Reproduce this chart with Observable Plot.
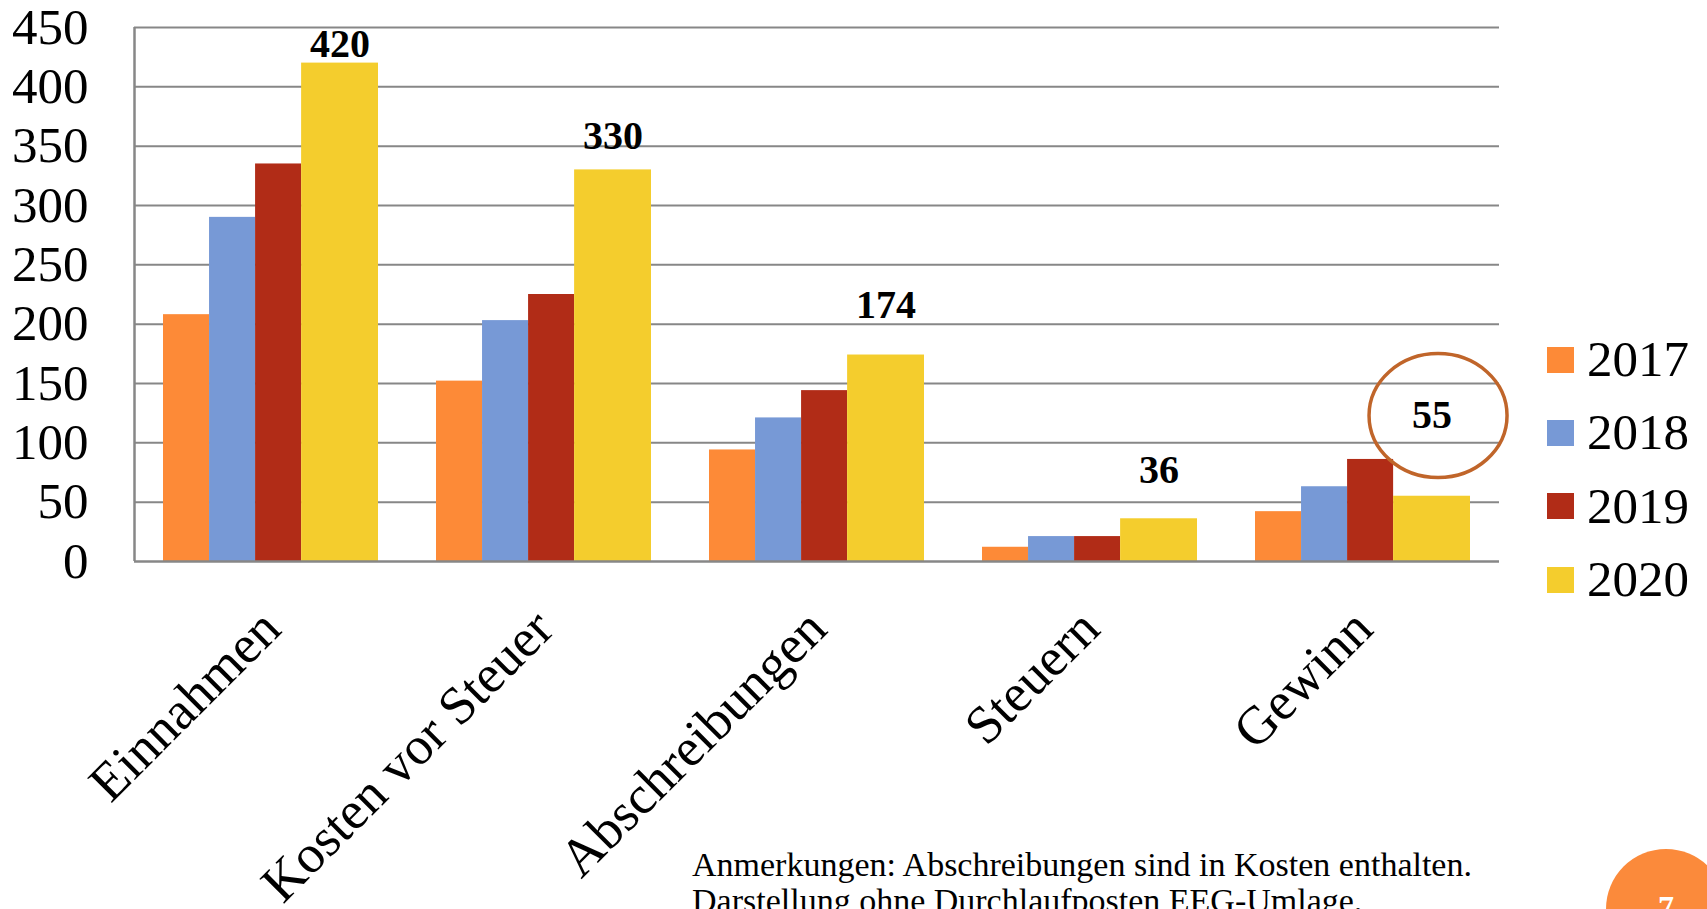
<!DOCTYPE html>
<html>
<head>
<meta charset="utf-8">
<script src="https://cdn.jsdelivr.net/npm/d3@7"></script>
<script src="https://cdn.jsdelivr.net/npm/@observablehq/plot@0.6"></script>
<style>
  html, body { margin: 0; padding: 0; background: #fff; overflow: hidden; }
  #wrap { position: relative; width: 1707px; height: 909px; font-family: "Liberation Serif", serif; }
  #chart { position: absolute; left: 0; top: 0; }
  .legend { position: absolute; left: 1547px; top: 323px; }
  .legend .row { display: flex; align-items: center; height: 73.3px; }
  .legend .sw { width: 27px; height: 26px; margin-right: 13px; }
  .legend .lb { font-size: 51px; color: #000; line-height: 1; }
  .note { position: absolute; left: 692px; top: 847px; font-size: 34px; line-height: 36px; color: #000; white-space: nowrap; }
  .page { position: absolute; left: 1606px; top: 849px; width: 120px; height: 120px; border-radius: 50%; background: #FB8A3B; }
  .page span { position: absolute; left: 0; width: 120px; top: 40px; text-align: center; color: #fff; font-weight: bold; font-size: 32px; }
</style>
</head>
<body>
<div id="wrap">
  <div id="chart"></div>
  <div class="legend" id="legend"></div>
  <div class="note">Anmerkungen: Abschreibungen sind in Kosten enthalten.<br>Darstellung ohne Durchlaufposten EEG-Umlage.</div>
  <div class="page"><span>7</span></div>
</div>
<script>
// ---- data ----
const categories = ["Einnahmen", "Kosten vor Steuer", "Abschreibungen", "Steuern", "Gewinn"];
const years = ["2017", "2018", "2019", "2020"];
const v2017 = [208, 152, 94, 12, 42];
const v2018 = [290, 203, 121, 21, 63];
const v2019 = [335, 225, 144, 21, 86];
const v2020 = [420, 330, 174, 36, 55];
const labelText = ["420", "330", "174", "36", "55"];
const labelAt = [436, 358, 216, 77, 123];
const yTicks = [0, 50, 100, 150, 200, 250, 300, 350, 400, 450];
const colors = ["#FD8A37", "#7799D6", "#B12C17", "#F4CD2D"];
const highlighted = ["Gewinn"];

// ---- layout (in bar-width units within each category band) ----
const PAD = 0.63;
const widths = [1, 1, 1, 1.67];
const bandUnits = 2 * PAD + d3.sum(widths);
const offsets = widths.map((w, i) => PAD + d3.sum(widths.slice(0, i)));

const series = [v2017, v2018, v2019, v2020];
const rows = [];
categories.forEach((c, ci) => {
  years.forEach((y, yi) => {
    rows.push({cat: c, year: y, value: series[yi][ci], x1: offsets[yi], x2: offsets[yi] + widths[yi]});
  });
});
const labels = categories.map((c, ci) => ({cat: c, text: labelText[ci], at: labelAt[ci]}));
const lastCenter = offsets[3] + widths[3] / 2;

const ellipse = {
  draw(ctx) {
    const rx = 69, ry = 62, k = 0.5523;
    ctx.moveTo(rx, 0);
    ctx.bezierCurveTo(rx, ry * k, rx * k, ry, 0, ry);
    ctx.bezierCurveTo(-rx * k, ry, -rx, ry * k, -rx, 0);
    ctx.bezierCurveTo(-rx, -ry * k, -rx * k, -ry, 0, -ry);
    ctx.bezierCurveTo(rx * k, -ry, rx, -ry * k, rx, 0);
    ctx.closePath();
  }
};

const gridColor = "#878787";

const chart = Plot.plot({
  width: 1707,
  height: 909,
  marginLeft: 133,
  marginRight: 208,
  marginTop: 27,
  marginBottom: 348,
  style: {fontFamily: "'Liberation Serif', serif", fontSize: "51px", color: "#000", background: "transparent"},
  fx: {domain: categories, padding: 0, label: null},
  x: {domain: [0, bandUnits], axis: null},
  y: {domain: [0, 450], ticks: yTicks, tickSize: 0, tickPadding: 46, label: null, tickFormat: d => String(d)},
  color: {domain: years, range: colors},
  marks: [
    Plot.ruleY(yTicks.filter(d => d > 0), {stroke: gridColor, strokeWidth: 2}),
    Plot.rectY(rows, {fx: "cat", x1: "x1", x2: "x2", y: "value", fill: "year"}),
    Plot.ruleY([0], {stroke: gridColor, strokeWidth: 2.5}),
    Plot.ruleX([categories[0]], {fx: d => d, x: () => 0, y1: 0, y2: 450, stroke: gridColor, strokeWidth: 2.5}),
    Plot.axisFx({anchor: "bottom", label: null, tickSize: 0, tickPadding: 58, tickRotate: -45, fontSize: 53.5}),
    Plot.text(labels, {fx: "cat", x: () => lastCenter, y: "at", text: "text", fontSize: 40, fontWeight: "bold", fill: "#000"}),
    Plot.dot(labels.filter(d => highlighted.includes(d.cat)), {fx: "cat", x: () => lastCenter + 0.13, y: "at", symbol: ellipse, r: 10, fill: "none", stroke: "#C0652A", strokeWidth: 3.5})
  ]
});
document.getElementById("chart").appendChild(chart);

// ---- legend ----
const legend = document.getElementById("legend");
years.forEach((y, i) => {
  const row = document.createElement("div");
  row.className = "row";
  row.innerHTML = `<div class="sw" style="background:${colors[i]}"></div><div class="lb">${y}</div>`;
  legend.appendChild(row);
});
</script>
</body>
</html>
